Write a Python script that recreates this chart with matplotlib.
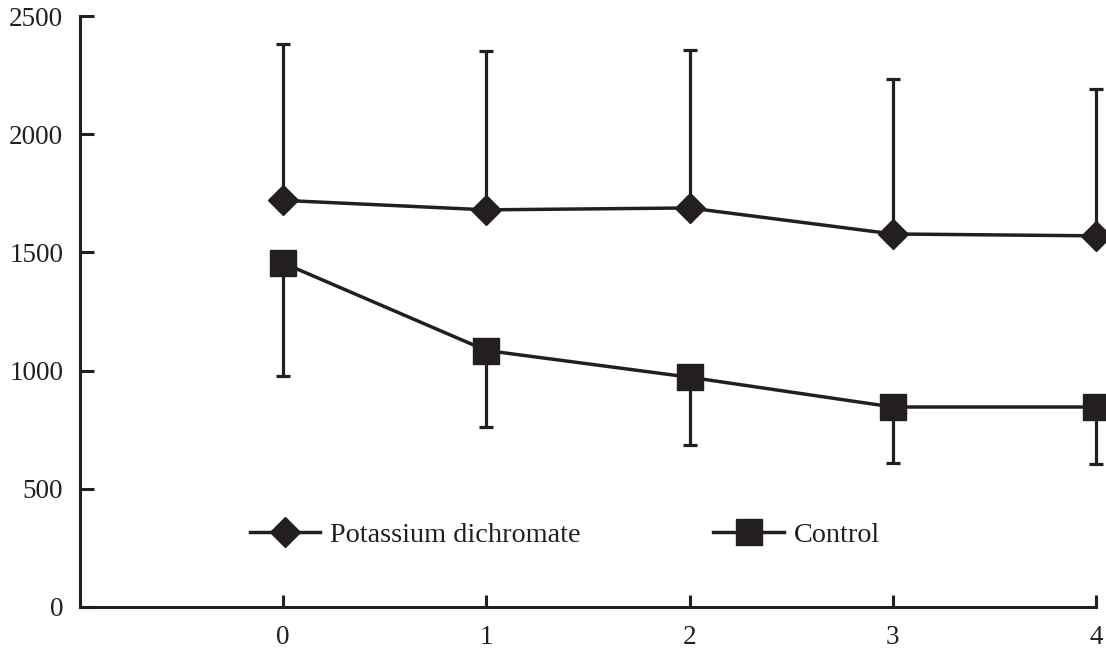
import matplotlib.pyplot as plt

plt.rcParams['font.family'] = ['Liberation Serif', 'DejaVu Serif']

x = [0, 1, 2, 3, 4]
dichromate = [1720, 1680, 1688, 1578, 1570]
dichromate_err = [660, 672, 668, 655, 620]
control = [1455, 1085, 972, 846, 846]
control_err = [478, 325, 285, 238, 242]

ink = '#231f20'

fig = plt.figure(figsize=(11.06, 6.53), dpi=100)
ax = fig.add_axes([80 / 1106, 46 / 653, 1016 / 1106, 591 / 653])

# one-sided error bars: up for dichromate, down for control
ax.errorbar(x, dichromate, yerr=[[0] * 5, dichromate_err], fmt='none',
            ecolor=ink, elinewidth=2.3, capsize=4.7, capthick=2.3,
            clip_on=False, zorder=2)
ax.errorbar(x, control, yerr=[control_err, [0] * 5], fmt='none',
            ecolor=ink, elinewidth=2.3, capsize=4.7, capthick=2.3,
            clip_on=False, zorder=2)

ax.plot(x, dichromate, color=ink, lw=2.5, marker='D', ms=15.5,
        label='Potassium dichromate', clip_on=False, zorder=3)
ax.plot(x, control, color=ink, lw=2.5, marker='s', ms=18.5,
        label='Control', clip_on=False, zorder=3)

ax.set_xlim(-1, 4)
ax.set_ylim(0, 2500)
ax.set_xticks(x)
ax.set_yticks([0, 500, 1000, 1500, 2000, 2500])

for s in ['top', 'right']:
    ax.spines[s].set_visible(False)
for s in ['left', 'bottom']:
    ax.spines[s].set_linewidth(2.2)
    ax.spines[s].set_color(ink)

ax.tick_params(axis='y', direction='in', length=10, width=2.2, color=ink,
               labelsize=19.5, pad=12, labelcolor=ink)
ax.tick_params(axis='x', direction='in', length=9, width=2.2, color=ink,
               labelsize=19.5, pad=13, labelcolor=ink)

ax.legend(loc='center left', bbox_to_anchor=(0.167, 0.122), ncol=2,
          frameon=False, fontsize=20.3, numpoints=1, handlelength=2.5,
          handletextpad=0.36, columnspacing=4.7, borderpad=0,
          borderaxespad=0, labelcolor=ink)

fig.savefig('out.png', dpi=100)
